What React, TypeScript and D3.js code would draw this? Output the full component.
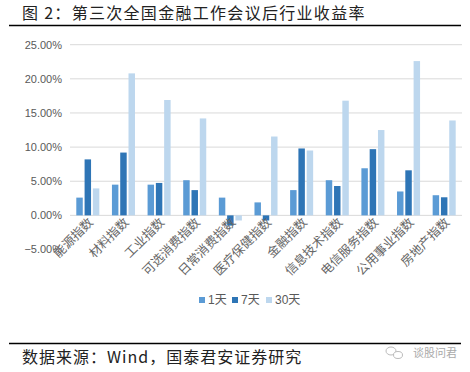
import React from "react";
import * as d3 from "d3";

// 行业与三个区间收益率（%）
const categories = [
  "能源指数",
  "材料指数",
  "工业指数",
  "可选消费指数",
  "日常消费指数",
  "医疗保健指数",
  "金融指数",
  "信息技术指数",
  "电信服务指数",
  "公用事业指数",
  "房地产指数",
];
const seriesNames = ["1天", "7天", "30天"];
const day1 = [2.6, 4.5, 4.5, 5.15, 2.6, 1.9, 3.7, 5.15, 6.9, 3.5, 2.95];
const day7 = [8.2, 9.2, 4.75, 3.7, -1.5, -0.75, 9.8, 4.3, 9.7, 6.6, 2.65];
const day30 = [3.95, 20.8, 16.9, 14.2, -0.75, 11.55, 9.5, 16.8, 12.5, 22.6, 13.9];
const yTicks = [-5, 0, 5, 10, 15, 20, 25];
const colors = ["#5B9BD5", "#2E75B6", "#BDD7EE"];

const W = 470;
const H = 372;
const plot = { left: 70, right: 462, top: 44.7, bottom: 249.5 };
const numFont = "'Liberation Sans', 'Noto Sans CJK SC', sans-serif";
const cjkFont = "'Noto Sans CJK SC', sans-serif";

export default function App() {
  const values = [day1, day7, day30];

  const x = d3.scaleBand().domain(categories).range([plot.left, plot.right]);
  const x1 = d3
    .scaleBand()
    .domain(seriesNames)
    .range([6.3, x.bandwidth() - 6.3])
    .paddingInner(0.22);
  const y = d3.scaleLinear().domain([-5, 25]).range([plot.bottom, plot.top]);

  return (
    <div style={{ position: "absolute", left: 0, top: 0 }}>
      <svg width={W} height={H} style={{ display: "block", background: "#fff" }}>
        {/* title */}
        <text x={22} y={18.5} fontFamily={cjkFont} fontSize={16} fill="#222" letterSpacing={1.3}>
          图 2：第三次全国金融工作会议后行业收益率
        </text>
        <line x1={9} x2={461} y1={25.5} y2={25.5} stroke="#000" strokeWidth={1.3} />

        {/* grid + y labels */}
        {yTicks.map((t) => (
          <g key={t}>
            {t !== -5 && (
              <line
                x1={plot.left}
                x2={plot.right}
                y1={y(t)}
                y2={y(t)}
                stroke="#D9D9D9"
                strokeWidth={1}
              />
            )}
            <text
              x={62}
              y={y(t)}
              dy="0.35em"
              textAnchor="end"
              fontFamily={numFont}
              fontSize={11}
              fill="#595959"
            >
              {d3.format(".2f")(t) + "%"}
            </text>
          </g>
        ))}

        {/* bars */}
        {categories.map((c, i) => (
          <g key={c} transform={`translate(${x(c)},0)`}>
            {seriesNames.map((s, k) => {
              const v = values[k][i];
              return (
                <rect
                  key={s}
                  x={x1(s)}
                  y={y(Math.max(0, v))}
                  width={x1.bandwidth()}
                  height={Math.abs(y(v) - y(0))}
                  fill={colors[k]}
                />
              );
            })}
          </g>
        ))}

        {/* x labels */}
        {categories.map((c) => {
          const cx = (x(c) as number) + x.bandwidth() / 2 + 3;
          const cy = 220;
          return (
            <text
              key={c}
              transform={`translate(${cx},${cy}) rotate(-45)`}
              textAnchor="end"
              dy="0.35em"
              fontFamily={cjkFont}
              fontSize={12.5}
              fill="#666"
            >
              {c}
            </text>
          );
        })}

        {/* legend */}
        {seriesNames.map((s, k) => {
          const lx = [199, 232, 266][k];
          return (
            <g key={s} transform={`translate(${lx},300)`}>
              <rect x={0} y={-3} width={6} height={6} fill={colors[k]} />
              <text
                x={9}
                dy="0.35em"
                fontFamily={numFont}
                fontSize={12}
                fill="#595959"
              >
                {s}
              </text>
            </g>
          );
        })}

        {/* footer */}
        <line x1={9} x2={461} y1={343.5} y2={343.5} stroke="#000" strokeWidth={1.3} />
        <text x={22} y={363} fontFamily={cjkFont} fontSize={16} fill="#222" letterSpacing={1.0}>
          数据来源：Wind，国泰君安证券研究
        </text>
        <g fill="none" stroke="#bbb" strokeWidth={1}>
          <ellipse cx={391} cy={351} rx={5} ry={4} />
          <ellipse cx={398} cy={355} rx={4.5} ry={3.5} fill="#fff" />
        </g>
        <text x={413} y={357} fontFamily={cjkFont} fontSize={11} fill="#aaa">
          谈股问君
        </text>
      </svg>
    </div>
  );
}
